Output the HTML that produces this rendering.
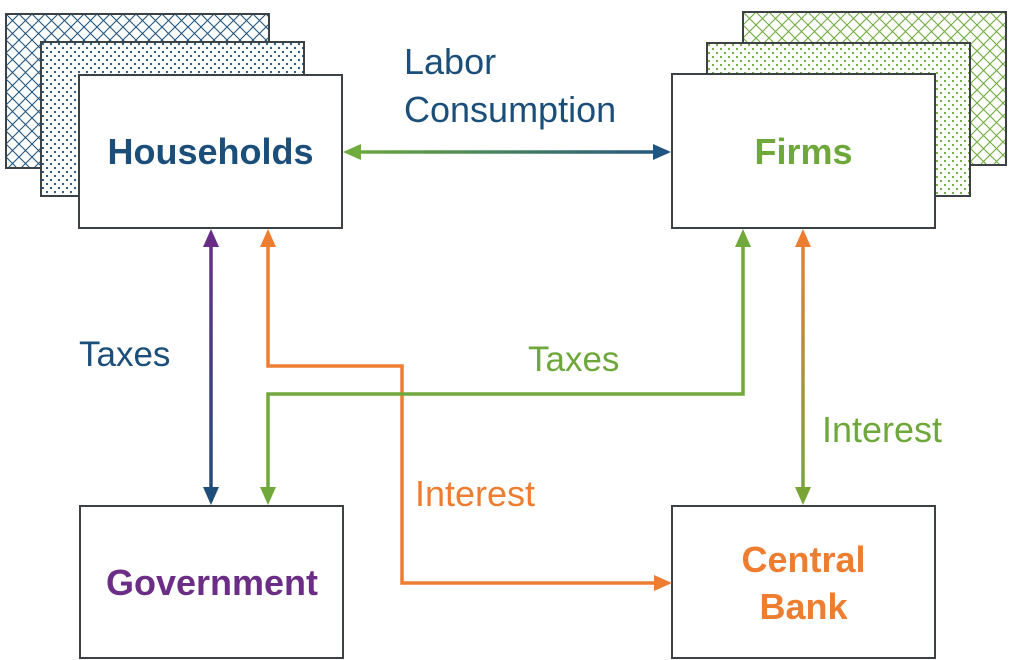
<!DOCTYPE html>
<html>
<head>
<meta charset="utf-8">
<style>
html,body{margin:0;padding:0;background:#fff;}
svg{display:block;}
text{font-family:"Liberation Sans",Arial,sans-serif;}
</style>
</head>
<body>
<svg width="1011" height="660" viewBox="0 0 1011 660" xmlns="http://www.w3.org/2000/svg">
<defs>
  <pattern id="latN" width="13" height="13" patternUnits="userSpaceOnUse" x="6" y="14">
    <path d="M0,0 L13,13 M13,0 L0,13" stroke="#1f5580" stroke-width="1.1" fill="none"/>
  </pattern>
  <pattern id="dotN" width="8" height="8" patternUnits="userSpaceOnUse" x="41" y="42">
    <circle cx="2" cy="2" r="1.15" fill="#1f5580"/>
    <circle cx="6" cy="6" r="1.15" fill="#1f5580"/>
  </pattern>
  <pattern id="latG" width="13" height="13" patternUnits="userSpaceOnUse" x="743" y="12">
    <path d="M0,0 L13,13 M13,0 L0,13" stroke="#6fab3e" stroke-width="1.1" fill="none"/>
  </pattern>
  <pattern id="dotG" width="8" height="8" patternUnits="userSpaceOnUse" x="707" y="43">
    <circle cx="2" cy="2" r="1.15" fill="#6fab3e"/>
    <circle cx="6" cy="6" r="1.15" fill="#6fab3e"/>
  </pattern>
  <linearGradient id="gH" gradientUnits="userSpaceOnUse" x1="343" y1="0" x2="671" y2="0">
    <stop offset="0" stop-color="#6fab3e"/>
    <stop offset="1" stop-color="#1f5580"/>
  </linearGradient>
  <linearGradient id="gPN" gradientUnits="userSpaceOnUse" x1="0" y1="229" x2="0" y2="505">
    <stop offset="0" stop-color="#6a2d87"/>
    <stop offset="1" stop-color="#1f4e79"/>
  </linearGradient>
  <linearGradient id="gOG" gradientUnits="userSpaceOnUse" x1="0" y1="229" x2="0" y2="505">
    <stop offset="0" stop-color="#ed7d31"/>
    <stop offset="1" stop-color="#70a83b"/>
  </linearGradient>
</defs>

<!-- Households stack -->
<rect x="6" y="14" width="263" height="154" fill="#fff"/>
<rect x="6" y="14" width="263" height="154" fill="url(#latN)" stroke="#3c4146" stroke-width="2"/>
<rect x="41" y="42" width="263" height="154" fill="#fff"/>
<rect x="41" y="42" width="263" height="154" fill="url(#dotN)" stroke="#3c4146" stroke-width="2"/>
<rect x="79" y="75" width="263" height="153" fill="#fff" stroke="#3c4146" stroke-width="2"/>

<!-- Firms stack -->
<rect x="743" y="12" width="263" height="153" fill="#fff"/>
<rect x="743" y="12" width="263" height="153" fill="url(#latG)" stroke="#3c4146" stroke-width="2"/>
<rect x="707" y="43" width="263" height="153" fill="#fff"/>
<rect x="707" y="43" width="263" height="153" fill="url(#dotG)" stroke="#3c4146" stroke-width="2"/>
<rect x="672" y="74" width="263" height="154" fill="#fff" stroke="#3c4146" stroke-width="2"/>

<!-- Government & Central Bank -->
<rect x="80" y="506" width="263" height="152" fill="#fff" stroke="#3c4146" stroke-width="2"/>
<rect x="672" y="506" width="263" height="152" fill="#fff" stroke="#3c4146" stroke-width="2"/>

<!-- Horizontal Households<->Firms -->
<line x1="358" y1="152" x2="656" y2="152" stroke="url(#gH)" stroke-width="3.5"/>
<polygon points="343,152 361,144 361,160" fill="#6fab3e"/>
<polygon points="671,152 653,144 653,160" fill="#1f5580"/>

<!-- Households <-> Government (purple/navy) -->
<line x1="211" y1="244" x2="211" y2="490" stroke="url(#gPN)" stroke-width="3.5"/>
<polygon points="211,229 203,247 219,247" fill="#6a2d87"/>
<polygon points="211,505 203,487 219,487" fill="#1f4e79"/>

<!-- Orange path Households -> Central Bank -->
<polyline points="268,244 268,366 402,366 402,583 656,583" fill="none" stroke="#ed7d31" stroke-width="3.5" stroke-linejoin="miter"/>
<polygon points="268,229 260,247 276,247" fill="#ed7d31"/>
<polygon points="672,583 654,575 654,591" fill="#ed7d31"/>

<!-- Green path Firms -> Government -->
<polyline points="743,244 743,394 268,394 268,490" fill="none" stroke="#70a83b" stroke-width="3.5" stroke-linejoin="miter"/>
<polygon points="743,229 735,247 751,247" fill="#70a83b"/>
<polygon points="268,505 260,487 276,487" fill="#70a83b"/>

<!-- Firms <-> Central Bank -->
<line x1="803" y1="244" x2="803" y2="490" stroke="url(#gOG)" stroke-width="3.5"/>
<polygon points="803,229 795,247 811,247" fill="#ed7d31"/>
<polygon points="803,505 795,487 811,487" fill="#7aa535"/>

<!-- Box labels -->
<text x="210.5" y="164" font-size="36" font-weight="bold" fill="#1b4f7a" text-anchor="middle">Households</text>
<text x="803.5" y="164" font-size="36" font-weight="bold" fill="#6fa83a" text-anchor="middle">Firms</text>
<text x="212" y="595" font-size="36" font-weight="bold" fill="#6b2d85" text-anchor="middle">Government</text>
<text x="803.5" y="572" font-size="36" font-weight="bold" fill="#ed7d31" text-anchor="middle">Central</text>
<text x="803.5" y="619" font-size="36" font-weight="bold" fill="#ed7d31" text-anchor="middle">Bank</text>

<!-- Connector labels -->
<text x="404" y="74" font-size="36" fill="#1b4f7a">Labor</text>
<text x="404" y="122" font-size="36" fill="#1b4f7a">Consumption</text>
<text x="79" y="366" font-size="35" fill="#1b4f7a">Taxes</text>
<text x="528" y="371" font-size="35" fill="#6fa83a">Taxes</text>
<text x="822" y="442" font-size="36" fill="#6fa83a">Interest</text>
<text x="415" y="506" font-size="36" fill="#ed7d31">Interest</text>
</svg>
</body>
</html>
